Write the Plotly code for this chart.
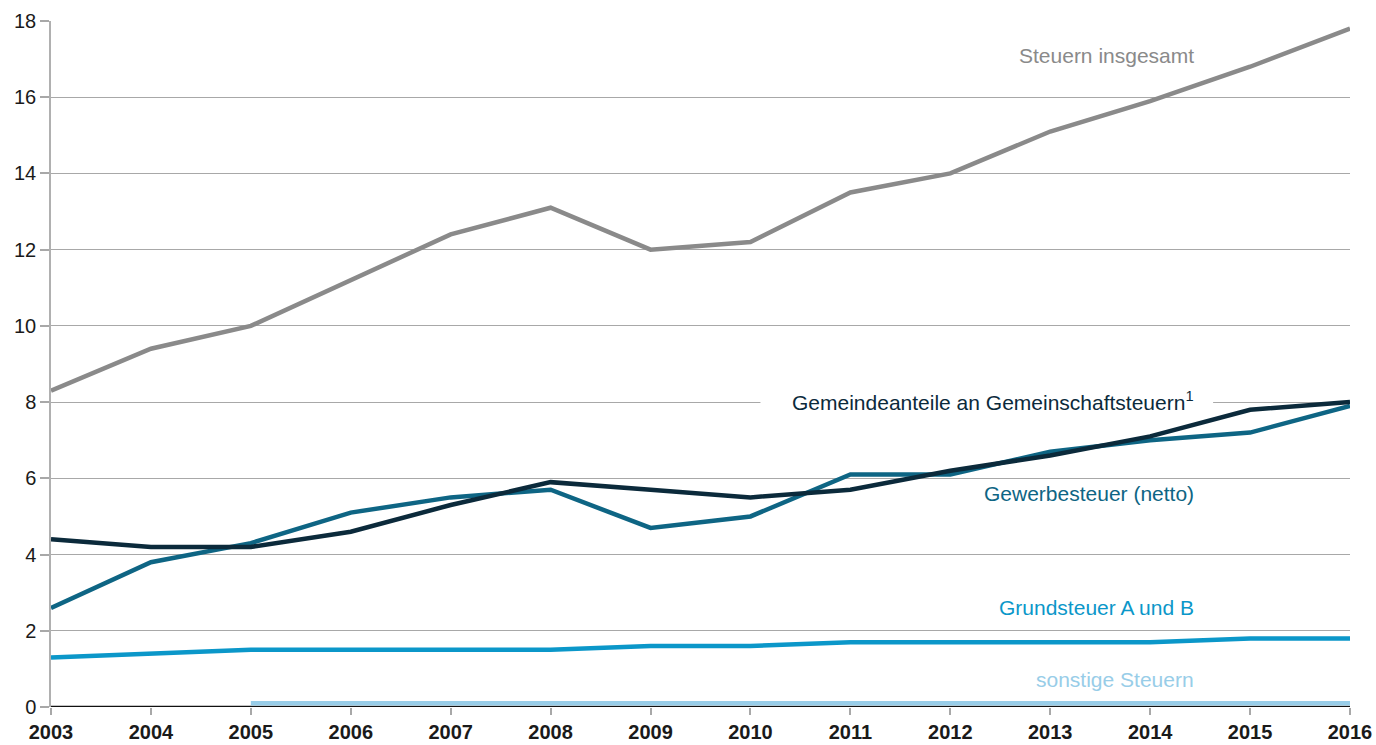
import plotly.graph_objects as go

years = list(range(2003, 2017))
steuern_insgesamt = [8.3, 9.4, 10.0, 11.2, 12.4, 13.1, 12.0, 12.2, 13.5, 14.0, 15.1, 15.9, 16.8, 17.8]
gemeindeanteile = [4.4, 4.2, 4.2, 4.6, 5.3, 5.9, 5.7, 5.5, 5.7, 6.2, 6.6, 7.1, 7.8, 8.0]
gewerbesteuer = [2.6, 3.8, 4.3, 5.1, 5.5, 5.7, 4.7, 5.0, 6.1, 6.1, 6.7, 7.0, 7.2, 7.9]
grundsteuer = [1.3, 1.4, 1.5, 1.5, 1.5, 1.5, 1.6, 1.6, 1.7, 1.7, 1.7, 1.7, 1.8, 1.8]
sonstige = [None, None, 0.1, 0.1, 0.1, 0.1, 0.1, 0.1, 0.1, 0.1, 0.1, 0.1, 0.1, 0.1]
y_ticks = [0, 2, 4, 6, 8, 10, 12, 14, 16, 18]

series = [
    ("sonstige Steuern", sonstige, "#98cde8", 0.73),
    ("Grundsteuer A und B", grundsteuer, "#0b97c9", 2.6),
    ("Gewerbesteuer (netto)", gewerbesteuer, "#0e6584", 5.59),
    ("Gemeindeanteile an Gemeinschaftsteuern<sup>1</sup>", gemeindeanteile, "#0b2a3b", 8.03),
    ("Steuern insgesamt", steuern_insgesamt, "#8a8a8a", 17.1),
]

FONT = "Liberation Sans, Arial, Helvetica, sans-serif"
fig = go.Figure()
# white backing behind the Gemeindeanteile label (hides gridline)
fig.add_shape(type="rect", xref="x", yref="y", x0=2010.1, x1=2014.63, y0=7.8, y1=8.25,
              fillcolor="white", line=dict(width=0), layer="between")
for name, vals, color, ly in series:
    fig.add_trace(go.Scatter(x=years, y=vals, mode="lines", name=name,
                             line=dict(color=color, width=4.5), connectgaps=False,
                             showlegend=False, hoverinfo="x+y"))
    fig.add_annotation(x=2014.46, y=ly, xref="x", yref="y", text=name,
                       showarrow=False, xanchor="right", yanchor="middle",
                       font=dict(family=FONT, size=21, color=color))

fig.update_layout(
    width=1376, height=745,
    margin=dict(l=51, r=26, t=21, b=38),
    paper_bgcolor="white", plot_bgcolor="white",
    font=dict(family=FONT, size=19, color="#1a1a1a"),
    xaxis=dict(range=[2003, 2016], tickmode="array", tickvals=years,
               ticktext=[str(y) for y in years], automargin=False,
               tickfont=dict(family=FONT, size=20, color="#1a1a1a", weight="bold"),
               showgrid=False, zeroline=False, showline=False,
               ticks="outside", ticklen=7, tickcolor="#a8a8a8", tickwidth=1.5),
    yaxis=dict(range=[0, 18], tickmode="array", tickvals=y_ticks, automargin=False,
               showgrid=True, gridcolor="#a8a8a8", gridwidth=1,
               zeroline=False, showline=True, linecolor="#b0b0b0", linewidth=1.5,
               ticks="outside", ticklen=9, tickcolor="#a8a8a8", tickwidth=1.5,
               tickfont=dict(family=FONT, size=20, color="#1a1a1a")),
)
# black baseline at 0
fig.add_shape(type="line", xref="paper", yref="y", x0=0, x1=1, y0=0, y1=0,
              line=dict(color="#111111", width=2.5), layer="between")
fig.write_html("out.html", config={"displayModeBar": False},
               post_script="document.body.style.margin='0';document.body.style.overflow='hidden';")
